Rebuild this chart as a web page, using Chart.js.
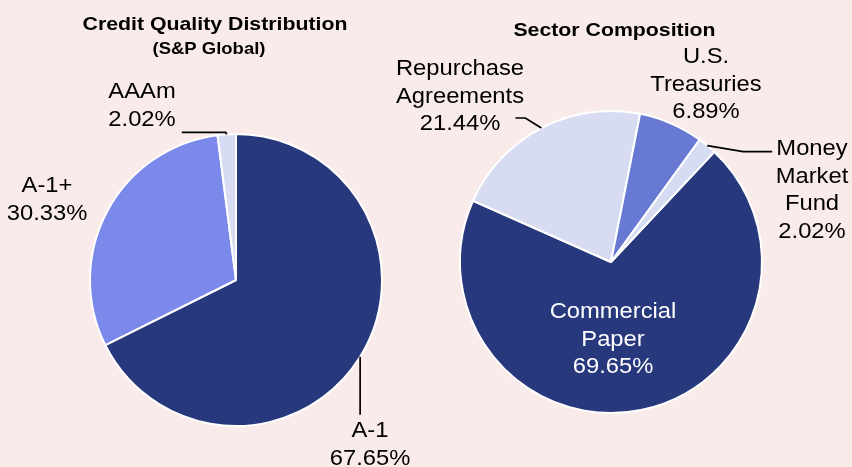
<!DOCTYPE html>
<html>
<head>
<meta charset="utf-8">
<script src="https://cdn.jsdelivr.net/npm/chart.js@4"></script>
<style>
  html, body { margin: 0; padding: 0; background: #FAEBEB; }
  #wrap { position: relative; width: 852px; height: 467px; overflow: hidden; background: #FAEBEB; }
  canvas { position: absolute; left: 0; top: 0; }
</style>
</head>
<body>
<div id="wrap">
  <canvas id="credit" width="852" height="467"></canvas>
  <canvas id="sector" width="852" height="467"></canvas>
</div>
<script>
// ---- data ----
const creditTitle = 'Credit Quality Distribution';
const creditSubtitle = '(S&P Global)';
const creditCategories = ['A-1', 'A-1+', 'AAAm'];
const creditValues = [67.65, 30.33, 2.02];
const creditColors = ['#28387C', '#7B89EB', '#D8DCF2'];

const sectorTitle = 'Sector Composition';
const sectorCategories = ['Commercial Paper', 'Repurchase Agreements', 'U.S. Treasuries', 'Money Market Fund'];
const sectorValues = [69.65, 21.44, 6.89, 2.02];
const sectorColors = ['#28387C', '#D8DCF2', '#6779D2', '#D8DCF2'];

// ---- label layout (text anchor offsets from pie centre, leader paths) ----
const creditLabelLayout = [
  { dx: 134, dy: 157, color: '#000', leader: [[0, 58]] },
  { dx: -189, dy: -88, color: '#000', leader: null },
  { dx: -94, dy: -182, color: '#000', leader: [[-1, -2], [-45, -2]] }
];
const sectorLabelLayout = [
  { dx: 2, dy: 56, color: '#FFFFFF', leader: null },
  { dx: -151, dy: -187, color: '#000', leader: [[-16, -10], [-26, -10]] },
  { dx: 95, dy: -199, color: '#000', leader: null },
  { dx: 201, dy: -107, color: '#000', leader: [[36, 6], [65, 6]] }
];

const FONT = '"Liberation Sans", Arial, sans-serif';
const LINE_H = 27.5;
const SX = 1.08;

function drawScaled(ctx, txt, x, y, sx) {
  ctx.save();
  ctx.translate(x, y);
  ctx.scale(sx, 1);
  ctx.fillText(txt, 0, 0);
  ctx.restore();
}

function makeLabelPlugin(categories, values, layout, titles) {
  return {
    id: 'pieLabels',
    afterDraw(chart) {
      const ctx = chart.ctx;
      const meta = chart.getDatasetMeta(0);
      ctx.save();
      ctx.textAlign = 'center';
      ctx.textBaseline = 'alphabetic';
      // titles
      titles.forEach(t => {
        ctx.font = 'bold ' + t.size + 'px ' + FONT;
        ctx.fillStyle = '#000';
        drawScaled(ctx, t.text, t.x, t.y, 1.12);
      });
      meta.data.forEach((arc, i) => {
        const L = layout[i];
        const cx = arc.x, cy = arc.y;
        // leader line from the slice's mid-angle on the outer edge
        if (L.leader) {
          const mid = (arc.startAngle + arc.endAngle) / 2;
          const r = arc.outerRadius;
          const sx = cx + r * Math.cos(mid);
          const sy = cy + r * Math.sin(mid);
          ctx.beginPath();
          ctx.moveTo(sx, sy);
          L.leader.forEach(p => ctx.lineTo(sx + p[0], sy + p[1]));
          ctx.strokeStyle = '#000';
          ctx.lineWidth = 1.7;
          ctx.stroke();
        }
        const lines = categories[i].split(' ').concat([values[i].toFixed(2) + '%']);
        ctx.font = '22px ' + FONT;
        ctx.fillStyle = L.color;
        lines.forEach((ln, k) => {
          drawScaled(ctx, ln, cx + L.dx, cy + L.dy + k * LINE_H, SX);
        });
      });
      ctx.restore();
    }
  };
}

const commonOpts = {
  responsive: false,
  animation: false,
  events: [],
  plugins: { legend: { display: false }, tooltip: { enabled: false }, title: { display: false } }
};

new Chart(document.getElementById('credit'), {
  type: 'pie',
  data: {
    labels: creditCategories,
    datasets: [{
      data: creditValues,
      backgroundColor: creditColors,
      borderColor: '#FFFFFF',
      borderWidth: 2
    }]
  },
  options: Object.assign({}, commonOpts, {
    rotation: 0,
    layout: { padding: { left: 89, right: 469, top: 133, bottom: 40 } }
  }),
  plugins: [makeLabelPlugin(creditCategories, creditValues, creditLabelLayout, [
    { text: creditTitle, size: 19, x: 215, y: 29.5 },
    { text: creditSubtitle, size: 16.5, x: 209, y: 53.5 }
  ])]
});

new Chart(document.getElementById('sector'), {
  type: 'pie',
  data: {
    labels: sectorCategories,
    datasets: [{
      data: sectorValues,
      backgroundColor: sectorColors,
      borderColor: '#FFFFFF',
      borderWidth: 2
    }]
  },
  options: Object.assign({}, commonOpts, {
    rotation: 43.2,
    layout: { padding: { left: 459, right: 89, top: 110, bottom: 53 } }
  }),
  plugins: [makeLabelPlugin(sectorCategories, sectorValues, sectorLabelLayout, [
    { text: sectorTitle, size: 19, x: 614.5, y: 35.5 }
  ])]
});
</script>
</body>
</html>
